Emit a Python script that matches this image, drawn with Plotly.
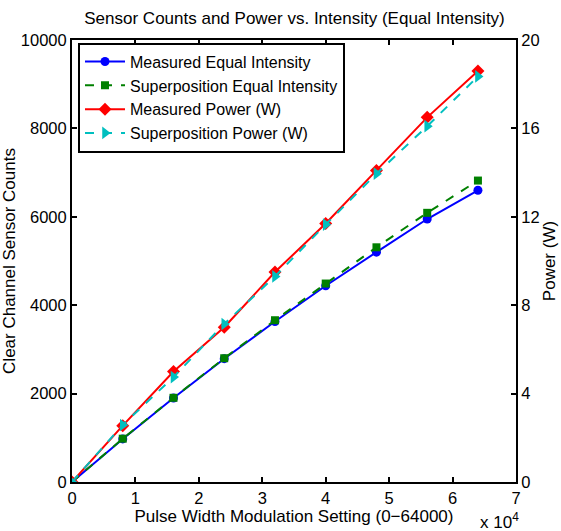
import plotly.graph_objects as go

pwm = [0, 8000, 16000, 24000, 32000, 40000, 48000, 56000, 64000]
measured_counts = [0, 975, 1900, 2790, 3630, 4440, 5200, 5950, 6600]
superpos_counts = [0, 980, 1905, 2800, 3660, 4490, 5310, 6090, 6820]
measured_power = [0, 2.55, 5.0, 7.0, 9.5, 11.7, 14.1, 16.5, 18.6]
superpos_power = [0, 2.58, 4.75, 7.15, 9.3, 11.65, 13.95, 16.1, 18.35]

x_tickvals = [0, 10000, 20000, 30000, 40000, 50000, 60000, 70000]
x_ticktext = ["0", "1", "2", "3", "4", "5", "6", "7"]
y_ticks = [0, 2000, 4000, 6000, 8000, 10000]
y_ticktext = ["0", "2000", "4000", "6000", "8000", "10000"]
y2_ticks = [0, 4, 8, 12, 16, 20]

font = "Liberation Sans, Arial, sans-serif"
tick_size = 16.5
text_size = 17
legend_size = 16

fig = go.Figure()
fig.add_trace(go.Scatter(x=pwm, y=measured_counts, name="Measured Equal Intensity",
                         mode="lines+markers", line=dict(color="#0000FF", width=2),
                         marker=dict(symbol="circle", size=9, color="#0000FF")))
fig.add_trace(go.Scatter(x=pwm, y=superpos_counts, name="Superposition Equal Intensity",
                         mode="lines+markers", line=dict(color="#008000", width=2, dash="dash"),
                         marker=dict(symbol="square", size=8, color="#008000")))
fig.add_trace(go.Scatter(x=pwm, y=measured_power, name="Measured Power (W)", yaxis="y2",
                         mode="lines+markers", line=dict(color="#FF0000", width=2),
                         marker=dict(symbol="diamond", size=10, color="#FF0000")))
fig.add_trace(go.Scatter(x=pwm, y=superpos_power, name="Superposition Power (W)", yaxis="y2",
                         mode="lines+markers", line=dict(color="#00BFBF", width=2, dash="dash"),
                         marker=dict(symbol="triangle-right", size=11, color="#00BFBF")))

axis_common = dict(showline=True, linecolor="black", linewidth=2, ticks="inside",
                   ticklen=5, tickwidth=1.5, tickcolor="black", showgrid=False,
                   zeroline=False, automargin=False,
                   tickfont=dict(size=tick_size, color="black", family=font))

fig.update_layout(
    width=561, height=531,
    margin=dict(l=72, r=45, t=40, b=49, autoexpand=False),
    paper_bgcolor="white", plot_bgcolor="white",
    font=dict(family=font, color="black", size=text_size),
    title=dict(text="Sensor Counts and Power vs. Intensity (Equal Intensity)",
               x=0.525, xanchor="center", y=0.966, yanchor="middle",
               font=dict(size=text_size, color="black", family=font)),
    xaxis=dict(range=[0, 70000], tickvals=x_tickvals, ticktext=x_ticktext, mirror="ticks",
               title=dict(text="Pulse Width Modulation Setting (0\u221264000)", standoff=1,
                          font=dict(size=text_size)), **axis_common),
    yaxis=dict(range=[0, 10000], tickvals=y_ticks, ticktext=y_ticktext,
               title=dict(text="Clear Channel Sensor Counts", standoff=2, font=dict(size=text_size)),
               **axis_common),
    yaxis2=dict(range=[0, 20], tickvals=y2_ticks, overlaying="y", side="right",
                title=dict(text="Power (W)", standoff=4, font=dict(size=text_size)),
                **axis_common),
    legend=dict(x=0.0135, y=0.994, xanchor="left", yanchor="top",
                bgcolor="white", bordercolor="black", borderwidth=2,
                font=dict(size=legend_size, color="black", family=font),
                tracegroupgap=0, itemwidth=40),
    showlegend=True,
)

fig.add_annotation(text="x 10<sup>4</sup>", xref="paper", yref="paper", x=1.011, y=-0.088,
                   xanchor="right", yanchor="middle", showarrow=False,
                   font=dict(size=text_size, color="black", family=font))

fig.write_html("out.html")
